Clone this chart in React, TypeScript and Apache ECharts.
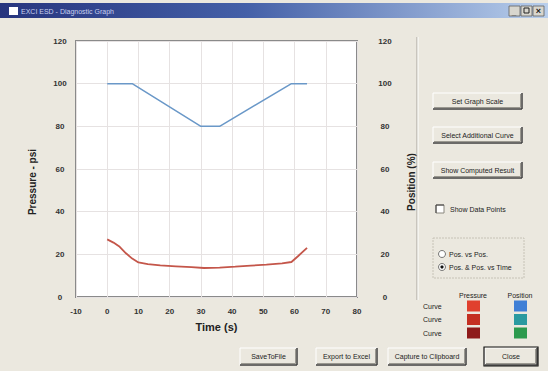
import React, { useEffect, useRef } from "react";
import * as echarts from "echarts";

const timeTicks = { min: -10, max: 80, interval: 10 };
const yTicks = { min: 0, max: 120, interval: 20 };

const positionTime = [0, 8, 30, 36, 59, 64];
const positionValue = [100, 100, 80, 80, 100, 100];

const pressureTime = [0, 2, 4, 6, 8, 10, 13, 17, 22, 27, 31, 36, 41, 46, 51, 56, 59, 61, 64];
const pressureValue = [27, 25.5, 23.5, 20.5, 18, 16.2, 15.4, 14.8, 14.4, 14, 13.6, 13.8, 14.2, 14.7, 15.2, 15.8, 16.4, 19, 23];

const rightButtons = ["Set Graph Scale", "Select Additional Curve", "Show Computed Result"];
const bottomButtons = ["SaveToFile", "Export to Excel", "Capture to Clipboard", "Close"];
const legendRows = ["Curve", "Curve", "Curve"];
const pressureSwatches = ["#e0402e", "#c42f22", "#8e1a1a"];
const positionSwatches = ["#3f7fd6", "#2a9aa0", "#2c9a4e"];

const BG = "#ebe8df";
const FONT = "Liberation Sans, Arial, sans-serif";

function button(x: number, y: number, w: number, h: number, label: string, isDefault = false): any {
  const children: any[] = [
    { type: "rect", shape: { x, y, width: w, height: h }, style: { fill: BG } },
    { type: "line", shape: { x1: x, y1: y, x2: x + w, y2: y }, style: { stroke: "#ffffff", lineWidth: 1 } },
    { type: "line", shape: { x1: x, y1: y, x2: x, y2: y + h }, style: { stroke: "#ffffff", lineWidth: 1 } },
    { type: "line", shape: { x1: x, y1: y + h, x2: x + w, y2: y + h }, style: { stroke: "#404040", lineWidth: 1.5 } },
    { type: "line", shape: { x1: x + w, y1: y, x2: x + w, y2: y + h }, style: { stroke: "#404040", lineWidth: 1.5 } },
    { type: "line", shape: { x1: x + 1, y1: y + h - 1.5, x2: x + w - 1.5, y2: y + h - 1.5 }, style: { stroke: "#9a9890", lineWidth: 1 } },
    { type: "line", shape: { x1: x + w - 1.5, y1: y + 1, x2: x + w - 1.5, y2: y + h - 1.5 }, style: { stroke: "#9a9890", lineWidth: 1 } },
    {
      type: "text",
      style: { x: x + w / 2, y: y + h / 2, text: label, fill: "#222", font: `7px ${FONT}`, textAlign: "center", textVerticalAlign: "middle" },
    },
  ];
  if (isDefault) {
    children.push({ type: "rect", shape: { x: x - 1, y: y - 1, width: w + 2, height: h + 2 }, style: { fill: "none", stroke: "#111", lineWidth: 1.2 } });
  }
  return { type: "group", children };
}

export default function App() {
  const ref = useRef<HTMLDivElement>(null);
  useEffect(() => {
    if (!ref.current) return;
    const chart = echarts.init(ref.current, null, { renderer: "svg" });

    const rb = [
      [433, 93, 89, 16],
      [433, 127, 89, 16],
      [433, 162, 89, 16],
    ];
    const bb = [
      [240, 348, 57, 17],
      [316, 348, 61, 17],
      [388, 348, 78, 17],
      [485, 348, 52, 17],
    ];

    const graphics: any[] = [
      { type: "rect", z: -10, shape: { x: 0, y: 0, width: 548, height: 371 }, style: { fill: BG } },
      {
        type: "rect",
        z: -5,
        shape: { x: 0, y: 3, width: 548, height: 15 },
        style: {
          fill: new echarts.graphic.LinearGradient(0, 0, 1, 0, [
            { offset: 0, color: "#27357e" },
            { offset: 0.45, color: "#4460a8" },
            { offset: 1, color: "#b9cfec" },
          ]),
        },
      },
      { type: "rect", shape: { x: 9, y: 7, width: 9, height: 8 }, style: { fill: "#ffffff" } },
      { type: "text", style: { x: 21, y: 11, text: "EXCI ESD - Diagnostic Graph", fill: "#c8d0f0", font: `7px ${FONT}`, textVerticalAlign: "middle" } },
      { type: "rect", shape: { x: 509, y: 6, width: 11, height: 10 }, style: { fill: "#d8d6ce", stroke: "#606060", lineWidth: 0.8 } },
      { type: "rect", shape: { x: 521, y: 6, width: 11, height: 10 }, style: { fill: "#d8d6ce", stroke: "#606060", lineWidth: 0.8 } },
      { type: "rect", shape: { x: 533, y: 6, width: 11, height: 10 }, style: { fill: "#d8d6ce", stroke: "#606060", lineWidth: 0.8 } },
      { type: "text", style: { x: 514, y: 12, text: "_", fill: "#222", font: `bold 8px ${FONT}`, textAlign: "center", textVerticalAlign: "middle" } },
      { type: "rect", shape: { x: 524, y: 8, width: 5, height: 5 }, style: { fill: "none", stroke: "#222", lineWidth: 1 } },
      { type: "text", style: { x: 538.5, y: 11, text: "×", fill: "#222", font: `bold 9px ${FONT}`, textAlign: "center", textVerticalAlign: "middle" } },
      // axis names
      {
        type: "text",
        rotation: Math.PI / 2,
        x: 32,
        y: 182,
        style: { x: 0, y: 0, text: "Pressure - psi", fill: "#222", font: `bold 10px ${FONT}`, textAlign: "center", textVerticalAlign: "middle" },
      },
      {
        type: "text",
        rotation: Math.PI / 2,
        x: 411,
        y: 182,
        style: { x: 0, y: 0, text: "Position (%)", fill: "#222", font: `bold 10px ${FONT}`, textAlign: "center", textVerticalAlign: "middle" },
      },
      // separator
      { type: "line", shape: { x1: 417, y1: 37, x2: 417, y2: 300 }, style: { stroke: "#a6a39a", lineWidth: 1 } },
      { type: "line", shape: { x1: 418, y1: 37, x2: 418, y2: 300 }, style: { stroke: "#ffffff", lineWidth: 1 } },
      // checkbox
      { type: "rect", shape: { x: 436, y: 205, width: 8, height: 8 }, style: { fill: "#ffffff", stroke: "#8a877e", lineWidth: 1 } },
      { type: "line", shape: { x1: 436, y1: 205, x2: 444, y2: 205 }, style: { stroke: "#404040", lineWidth: 1 } },
      { type: "line", shape: { x1: 436, y1: 205, x2: 436, y2: 213 }, style: { stroke: "#404040", lineWidth: 1 } },
      { type: "text", style: { x: 450, y: 209, text: "Show Data Points", fill: "#222", font: `7px ${FONT}`, textVerticalAlign: "middle" } },
      // group box
      { type: "rect", shape: { x: 433, y: 238, width: 91, height: 40 }, style: { fill: "none", stroke: "#c6c2b6", lineWidth: 1, lineDash: [2, 1] } },
      { type: "circle", shape: { cx: 442, cy: 254, r: 3.5 }, style: { fill: "#ffffff", stroke: "#555", lineWidth: 0.8 } },
      { type: "circle", shape: { cx: 442, cy: 267, r: 3.5 }, style: { fill: "#ffffff", stroke: "#555", lineWidth: 0.8 } },
      { type: "circle", shape: { cx: 442, cy: 267, r: 1.6 }, style: { fill: "#111" } },
      { type: "text", style: { x: 449, y: 254, text: "Pos. vs Pos.", fill: "#222", font: `7px ${FONT}`, textVerticalAlign: "middle" } },
      { type: "text", style: { x: 449, y: 267, text: "Pos. & Pos. vs Time", fill: "#222", font: `7px ${FONT}`, textVerticalAlign: "middle" } },
      // legend headers
      { type: "text", style: { x: 473, y: 295, text: "Pressure", fill: "#222", font: `7px ${FONT}`, textAlign: "center", textVerticalAlign: "middle" } },
      { type: "text", style: { x: 520, y: 295, text: "Position", fill: "#222", font: `7px ${FONT}`, textAlign: "center", textVerticalAlign: "middle" } },
    ];

    legendRows.forEach((label, i) => {
      const cy = 306 + i * 13.5;
      graphics.push({ type: "text", style: { x: 423, y: cy, text: label, fill: "#222", font: `7px ${FONT}`, textVerticalAlign: "middle" } });
      graphics.push({ type: "rect", shape: { x: 467, y: cy - 5.5, width: 13, height: 11 }, style: { fill: pressureSwatches[i] } });
      graphics.push({ type: "rect", shape: { x: 514, y: cy - 5.5, width: 13, height: 11 }, style: { fill: positionSwatches[i] } });
    });

    rightButtons.forEach((label, i) => {
      const [x, y, w, h] = rb[i];
      graphics.push(button(x, y, w, h, label));
    });
    bottomButtons.forEach((label, i) => {
      const [x, y, w, h] = bb[i];
      graphics.push(button(x, y, w, h, label, label === "Close"));
    });

    const labelStyle = { fontSize: 8, fontWeight: "bold" as const, color: "#333", fontFamily: FONT };

    chart.setOption({
      animation: false,
      backgroundColor: BG,
      graphic: { elements: graphics },
      grid: {
        left: 76,
        right: 191,
        top: 41,
        bottom: 74,
        show: true,
        backgroundColor: "#ffffff",
        borderColor: "#8a8a8a",
        borderWidth: 2,
      },
      xAxis: {
        type: "value",
        min: timeTicks.min,
        max: timeTicks.max,
        interval: timeTicks.interval,
        name: "Time (s)",
        nameLocation: "middle",
        nameGap: 24,
        nameTextStyle: { fontSize: 11, fontWeight: "bold", color: "#222", fontFamily: FONT },
        axisLine: { show: false },
        axisTick: { show: false },
        axisLabel: { ...labelStyle, margin: 10 },
        splitLine: { show: true, lineStyle: { color: "#e6e2e2", width: 1 } },
      },
      yAxis: [
        {
          type: "value",
          min: yTicks.min,
          max: yTicks.max,
          interval: yTicks.interval,
          position: "left",
          axisLine: { show: false },
          axisTick: { show: false },
          axisLabel: { ...labelStyle, align: "center", margin: 16 },
          splitLine: { show: true, lineStyle: { color: "#e6e2e2", width: 1 } },
        },
        {
          type: "value",
          min: yTicks.min,
          max: yTicks.max,
          interval: yTicks.interval,
          position: "right",
          axisLine: { show: false },
          axisTick: { show: false },
          axisLabel: { ...labelStyle, align: "center", margin: 28 },
          splitLine: { show: false },
        },
      ],
      series: [
        {
          name: "Position",
          type: "line",
          yAxisIndex: 1,
          data: positionTime.map((t, i) => [t, positionValue[i]]),
          showSymbol: false,
          lineStyle: { color: "#6a98c8", width: 1.5 },
          itemStyle: { color: "#6a98c8" },
        },
        {
          name: "Pressure",
          type: "line",
          yAxisIndex: 0,
          data: pressureTime.map((t, i) => [t, pressureValue[i]]),
          showSymbol: false,
          lineStyle: { color: "#c4564a", width: 1.8 },
          itemStyle: { color: "#c4564a" },
        },
      ],
    });
    return () => chart.dispose();
  }, []);

  return <div ref={ref} style={{ position: "fixed", left: 0, top: 0, width: 548, height: 371 }} />;
}
